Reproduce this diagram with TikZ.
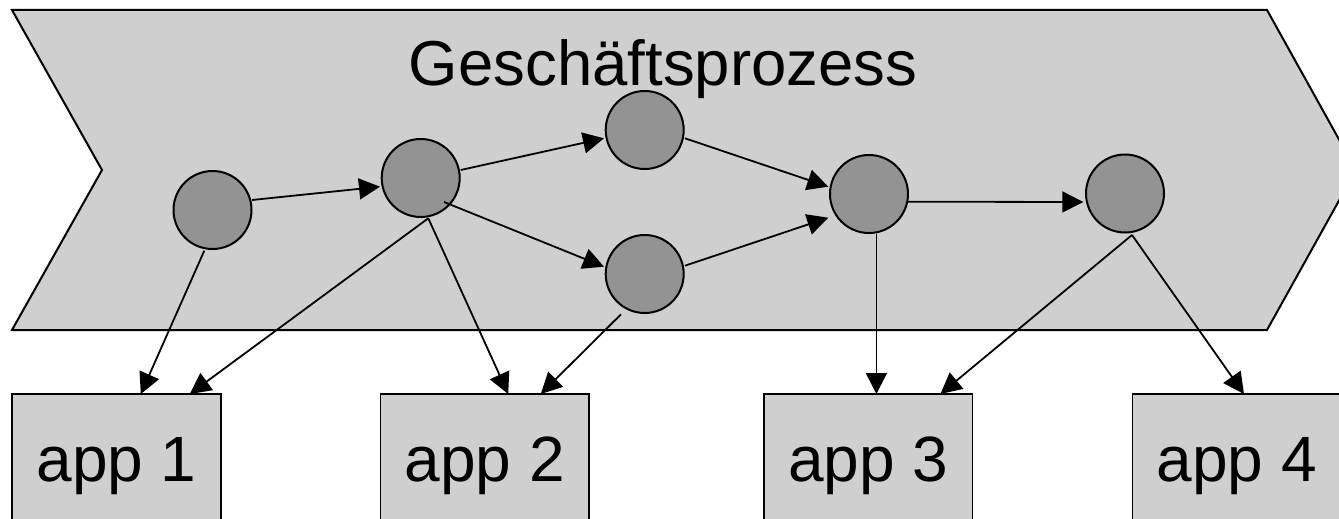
\documentclass[tikz,border=0pt]{standalone}
\usepackage{fontspec}
\setmainfont{Liberation Sans}
\usetikzlibrary{arrows.meta}
\definecolor{bandgray}{HTML}{CFCFCF}
\definecolor{procgray}{HTML}{939393}
\definecolor{boxgray}{HTML}{CFCFCF}
\begin{document}
\begin{tikzpicture}[x=1pt,y=-1pt,
  band/.style={draw=black, line width=2pt, fill=bandgray, line join=miter},
  proc/.style={circle, draw=black, line width=2pt, fill=procgray, minimum size=78pt, inner sep=0pt},
  app/.style={rectangle, draw=black, line width=1.6pt, fill=boxgray, minimum width=208.6pt, minimum height=143.4pt, inner sep=0pt, outer sep=0pt, font=\fontsize{64}{70}\selectfont},
  conn/.style={line width=1.8pt, -{Triangle[length=21pt,width=21pt]}},
  title/.style={font=\fontsize{63.5}{70}\selectfont, inner sep=0pt, anchor=base}]
\useasboundingbox (0,0) rectangle (1339,519);
\fill[white] (0,0) rectangle (1339,519);
\clip (0,0) rectangle (1339,519);
% process band
\draw[band] (12,10) -- (1267,10) -- (1356,170) -- (1267,330) -- (12,330) -- (102,170) -- cycle;
\node[title] (t) at (663,85) {Geschäftsprozess};
% process steps
\node[proc] (c1) at (212.5,210) {};
\node[proc] (c2) at (420.7,178) {};
\node[proc] (c3) at (644.7,130) {};
\node[proc] (c4) at (644.7,274) {};
\node[proc] (c5) at (869,194) {};
\node[proc] (c6) at (1125,193.5) {};
% applications
\node[app, anchor=north] (a1) at (116.5,394) {app 1};
\node[app, anchor=north] (a2) at (484.9,394) {app 2};
\node[app, anchor=north] (a3) at (868.2,394) {app 3};
\node[app, anchor=north] (a4) at (1236.8,394) {app 4};
% flow
\draw[conn] ([shift={(39.5,-10)}]c1.center) -- ([shift={(-40.7,8.7)}]c2.center);
\draw[conn] ([shift={(40,-8)}]c2.center) -- ([shift={(-40.7,8.3)}]c3.center);
\draw[conn] ([shift={(23.3,24)}]c2.center) -- ([shift={(-40.7,-7.3)}]c4.center);
\draw[conn] ([shift={(40.3,8.3)}]c3.center) -- ([shift={(-40.7,-7.3)}]c5.center);
\draw[conn] ([shift={(40.3,-8.3)}]c4.center) -- ([shift={(-40.7,23.7)}]c5.center);
\draw[conn] ([shift={(38.8,7.7)}]c5.center) -- ([shift={(-41.7,8.5)}]c6.center);
% usage
\draw[conn] ([shift={(-8.2,40.7)}]c1.center) -- ([xshift=24.3pt]a1.north);
\draw[conn] ([shift={(7.6,40.3)}]c2.center) -- ([xshift=73.3pt]a1.north);
\draw[conn] ([shift={(7.6,40.3)}]c2.center) -- ([xshift=23.3pt]a2.north);
\draw[conn] ([shift={(-23.7,40.3)}]c4.center) -- ([xshift=55.9pt]a2.north);
\draw[conn] ([shift={(7.4,40)}]c5.center) -- ([xshift=8.2pt]a3.north);
\draw[conn] ([shift={(7,41.5)}]c6.center) -- ([xshift=72.2pt]a3.north);
\draw[conn] ([shift={(7,41.5)}]c6.center) -- ([xshift=7.2pt]a4.north);
\end{tikzpicture}
\end{document}
